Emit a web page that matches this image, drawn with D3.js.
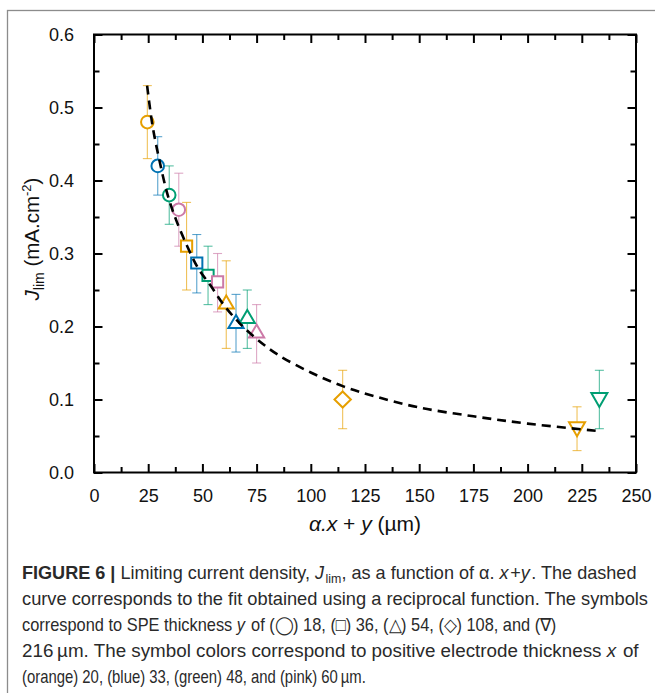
<!DOCTYPE html>
<html>
<head>
<meta charset="utf-8">
<script src="https://cdn.jsdelivr.net/npm/d3@7"></script>
<style>
  body { margin: 0; background: #fff; }
  svg { display: block; }
  text { font-family: "Liberation Sans", Arial, sans-serif; }
</style>
</head>
<body>
<div id="chart"></div>
<script>
// values
var alphaXY = [24.6, 29.4, 34.7, 39.1, 42.7, 47.4, 52.6, 57.0, 61.0, 65.5, 70.7, 75.0, 114.7, 222.8, 233.1];
var jLim    = [0.48, 0.42, 0.38, 0.36, 0.31, 0.287, 0.27, 0.261, 0.233, 0.206, 0.213, 0.193, 0.100, 0.060, 0.100];
var errLow  = [0.43, 0.38, 0.34, 0.31, 0.25, 0.246, 0.23, 0.22, 0.17, 0.165, 0.17, 0.15, 0.06, 0.03, 0.06];
var errHigh = [0.53, 0.46, 0.42, 0.41, 0.37, 0.326, 0.31, 0.30, 0.29, 0.244, 0.25, 0.23, 0.14, 0.09, 0.14];
// SPE thickness y -> symbol, electrode thickness x -> colour
var speSymbol = ["circle", "circle", "circle", "circle",
                 "square", "square", "square", "square",
                 "triangle", "triangle", "triangle", "triangle",
                 "diamond", "down", "down"];
var electrode = ["orange", "blue", "green", "pink",
                 "orange", "blue", "green", "pink",
                 "orange", "blue", "green", "pink",
                 "orange", "orange", "green"];

// dashed reciprocal fit
var fitX = [24.5, 27, 30, 34, 38, 43, 48, 54, 60, 67, 75, 85, 100, 115, 130, 150, 175, 200, 232];
var fitY = [0.53, 0.475, 0.43, 0.38, 0.345, 0.31, 0.28, 0.255, 0.229, 0.205, 0.183, 0.161, 0.137, 0.118, 0.104, 0.089, 0.077, 0.067, 0.057];

var xMajor = [0, 25, 50, 75, 100, 125, 150, 175, 200, 225, 250];
var xMinor = [12.5, 37.5, 62.5, 87.5, 112.5, 137.5, 162.5, 187.5, 212.5, 237.5];
var yMajor = [0, 0.1, 0.2, 0.3, 0.4, 0.5, 0.6];
var yMinor = [0.05, 0.15, 0.25, 0.35, 0.45, 0.55];

var colors = { orange: "#E69F00", blue: "#0072B2", green: "#009E73", pink: "#CC79A7" };

var W = 655, H = 693;
var margin = { top: 34.5, right: 19, bottom: 220.5, left: 94 },
    width = W - margin.left - margin.right,
    height = H - margin.top - margin.bottom;

var root = d3.select("#chart").append("svg")
  .attr("width", W)
  .attr("height", H);

// figure border (runs off the page on the right/bottom)
root.append("rect")
  .attr("x", 7.5).attr("y", 10.5)
  .attr("width", 700).attr("height", 750)
  .attr("fill", "none")
  .attr("stroke", "#8c8c8c")
  .attr("stroke-width", 1.3);

var svg = root.append("g")
  .attr("transform", "translate(" + margin.left + "," + margin.top + ")");

var xScale = d3.scaleLinear().domain([0, 250]).range([0, width]);
var yScale = d3.scaleLinear().domain([0, 0.6]).range([height, 0]);

// axes: ticks point inward on all four sides
function styleAxis(g) {
  g.select(".domain").remove();
  g.selectAll(".tick line").attr("stroke", "#000").attr("stroke-width", 2);
  g.selectAll(".tick text")
    .attr("fill", "#111")
    .style("font-size", "18px")
    .style("font-family", "'Liberation Sans', Arial, sans-serif");
}

svg.append("g")
  .attr("transform", "translate(0," + height + ")")
  .call(d3.axisBottom(xScale).tickValues(xMajor).tickSizeInner(-8.5).tickSizeOuter(0)
    .tickPadding(17).tickFormat(d3.format("d")))
  .call(styleAxis);
svg.append("g")
  .attr("transform", "translate(0," + height + ")")
  .call(d3.axisBottom(xScale).tickValues(xMinor).tickSize(-5.5).tickFormat(""))
  .call(styleAxis);
svg.append("g")
  .call(d3.axisTop(xScale).tickValues(xMajor).tickSize(-8.5).tickFormat(""))
  .call(styleAxis);
svg.append("g")
  .call(d3.axisTop(xScale).tickValues(xMinor).tickSize(-5.5).tickFormat(""))
  .call(styleAxis);

svg.append("g")
  .call(d3.axisLeft(yScale).tickValues(yMajor).tickSizeInner(-8.5).tickSizeOuter(0)
    .tickPadding(20).tickFormat(d3.format(".1f")))
  .call(styleAxis);
svg.append("g")
  .call(d3.axisLeft(yScale).tickValues(yMinor).tickSize(-5.5).tickFormat(""))
  .call(styleAxis);
svg.append("g")
  .attr("transform", "translate(" + width + ",0)")
  .call(d3.axisRight(yScale).tickValues(yMajor).tickSize(-8.5).tickFormat(""))
  .call(styleAxis);
svg.append("g")
  .attr("transform", "translate(" + width + ",0)")
  .call(d3.axisRight(yScale).tickValues(yMinor).tickSize(-5.5).tickFormat(""))
  .call(styleAxis);

// frame
svg.append("rect")
  .attr("width", width).attr("height", height)
  .attr("fill", "none")
  .attr("stroke", "#000")
  .attr("stroke-width", 2);

var points = alphaXY.map(function(x, i) {
  return { x: x, y: jLim[i], lo: errLow[i], hi: errHigh[i], sym: speSymbol[i], col: colors[electrode[i]] };
});

// error bars
var cap = 4.5;
var eb = svg.append("g").attr("stroke-width", 1.1).attr("stroke-opacity", 0.65).attr("fill", "none");
points.forEach(function(d) {
  var cx = xScale(d.x);
  var g = eb.append("g").attr("stroke", d.col);
  g.append("line").attr("x1", cx).attr("x2", cx).attr("y1", yScale(d.lo)).attr("y2", yScale(d.hi));
  g.append("line").attr("x1", cx - cap).attr("x2", cx + cap).attr("y1", yScale(d.lo)).attr("y2", yScale(d.lo));
  g.append("line").attr("x1", cx - cap).attr("x2", cx + cap).attr("y1", yScale(d.hi)).attr("y2", yScale(d.hi));
});

// symbol shapes, centred on 0,0
function shapePath(s) {
  if (s === "circle") return "M6.3,0A6.3,6.3,0,1,1,-6.3,0A6.3,6.3,0,1,1,6.3,0Z";
  if (s === "square") return "M-5.6,-5.6H5.6V5.6H-5.6Z";
  if (s === "triangle") return "M0,-7L7.6,6H-7.6Z";
  if (s === "down") return "M-8,-6.5H8L0,7.5Z";
  if (s === "diamond") return "M0,-8L8.2,0L0,8L-8.2,0Z";
}

svg.append("g")
  .selectAll("path")
  .data(points)
  .enter()
  .append("path")
  .attr("transform", function(d) { return "translate(" + xScale(d.x) + "," + yScale(d.y) + ")"; })
  .attr("d", function(d) { return shapePath(d.sym); })
  .attr("fill", "#fff")
  .attr("stroke", function(d) { return d.col; })
  .attr("stroke-width", 2);

// dashed fit on top
var fit = fitX.map(function(x, i) { return [x, fitY[i]]; });
var line = d3.line()
  .x(function(d) { return xScale(d[0]); })
  .y(function(d) { return yScale(d[1]); })
  .curve(d3.curveCatmullRom);
svg.append("path")
  .datum(fit)
  .attr("d", line)
  .attr("fill", "none")
  .attr("stroke", "#000")
  .attr("stroke-width", 2.6)
  .attr("stroke-dasharray", "9,6");

// axis titles
var xt = svg.append("text")
  .attr("x", width / 2).attr("y", height + 58)
  .attr("text-anchor", "middle")
  .style("font-size", "21px")
  .attr("fill", "#111");
xt.append("tspan").style("font-style", "italic").text("\u03B1.x");
xt.append("tspan").text(" + ");
xt.append("tspan").style("font-style", "italic").text("y");
xt.append("tspan").text(" (\u00B5m)");

var yt = root.append("text")
  .attr("transform", "rotate(-90)")
  .attr("x", -239).attr("y", 39)
  .attr("text-anchor", "middle")
  .style("font-size", "20.5px")
  .attr("fill", "#111");
yt.append("tspan").style("font-style", "italic").text("J");
yt.append("tspan").attr("dy", 5).style("font-size", "14px").text("lim");
yt.append("tspan").attr("dy", -5).text(" (mA.cm");
yt.append("tspan").attr("dy", -8).style("font-size", "13px").text("-2");
yt.append("tspan").attr("dy", 8).text(")");

// caption
var capLines = [
  [["b", "FIGURE 6 |"], ["", " Limiting current density, "], ["i", "J"], ["sub", "lim"], ["", ", as a function of \u03B1. "], ["i", "x"], ["", "+"], ["i", "y"], ["", ". The dashed"]],
  [["", "curve corresponds to the fit obtained using a reciprocal function. The symbols"]],
  [["", "correspond to SPE thickness "], ["i", "y"], ["", " of (\u25EF) 18, (\u25A1) 36, (\u25B3) 54, (\u25C7) 108, and (\u2207)"]],
  [["", "216\u2009\u00B5m. The symbol colors correspond to positive electrode thickness "], ["i", "x"], ["", " of"]],
  [["", "(orange) 20, (blue) 33, (green) 48, and (pink) 60\u2009\u00B5m."]]
];
var capWidths = [615, 627, 537, 617, 344];
capLines.forEach(function(parts, li) {
  var t = root.append("text")
    .attr("x", 0).attr("y", 0)
    .style("font-size", "17.5px")
    .attr("fill", "#2a2a2a");
  var shift = 0, prevItalic = false;
  parts.forEach(function(p) {
    var s = t.append("tspan").text(p[1]);
    var dy = 0;
    if (p[0] === "b") s.style("font-weight", "bold");
    if (p[0] === "i") s.style("font-style", "italic");
    if (p[0] === "sub") { s.style("font-size", "12px"); dy = 4; }
    if (dy - shift !== 0) s.attr("dy", dy - shift);
    if (prevItalic) s.attr("dx", 1.5);
    prevItalic = p[0] === "i";
    shift = dy;
  });
  // squeeze each line horizontally to the width it has in the figure (condensed face)
  var w = t.node().getBBox().width;
  t.attr("transform", "translate(22," + (579 + li * 26) + ") scale(" + (capWidths[li] / w) + ",1)");
});
</script>
</body>
</html>
